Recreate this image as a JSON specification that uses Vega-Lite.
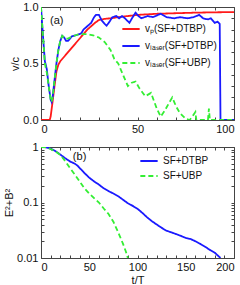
{
  "$schema": "https://vega.github.io/schema/vega-lite/v6.json",
  "padding": {"left": 3, "top": 0, "right": 0, "bottom": 0},
  "spacing": 5,
  "resolve": {"scale": {"color": "independent", "strokeDash": "independent"}, "legend": {"color": "independent", "strokeDash": "independent"}},
  "config": {
    "font": "Liberation Sans",
    "view": {"stroke": "#444", "strokeWidth": 1},
    "axis": {"grid": false, "domain": false, "tickColor": "#444", "tickSize": -3, "labelFontSize": 11, "labelColor": "#111", "titleFontSize": 11, "titleFontWeight": "normal", "titleColor": "#111", "labelPadding": 6, "minExtent": 0, "labelOverlap": false},
    "legend": {"labelFontSize": 10, "labelFont": "Liberation Sans", "labelColor": "#111", "symbolStrokeWidth": 2, "symbolSize": 300, "rowPadding": 2}
  },
  "datasets": {
    "top": [
      {"s": "vp", "t": 0, "v": 0}, {"s": "vp", "t": 4.5, "v": 0}, {"s": "vp", "t": 5, "v": 0.03}, {"s": "vp", "t": 6, "v": 0.16}, {"s": "vp", "t": 7, "v": 0.3}, {"s": "vp", "t": 8, "v": 0.43}, {"s": "vp", "t": 9, "v": 0.49}, {"s": "vp", "t": 10, "v": 0.52}, {"s": "vp", "t": 12, "v": 0.56}, {"s": "vp", "t": 14, "v": 0.6}, {"s": "vp", "t": 16, "v": 0.64}, {"s": "vp", "t": 18, "v": 0.68}, {"s": "vp", "t": 20, "v": 0.72}, {"s": "vp", "t": 22, "v": 0.76}, {"s": "vp", "t": 24, "v": 0.8}, {"s": "vp", "t": 26, "v": 0.83}, {"s": "vp", "t": 28, "v": 0.86}, {"s": "vp", "t": 30, "v": 0.885}, {"s": "vp", "t": 33, "v": 0.895}, {"s": "vp", "t": 36, "v": 0.9}, {"s": "vp", "t": 40, "v": 0.91}, {"s": "vp", "t": 45, "v": 0.92}, {"s": "vp", "t": 50, "v": 0.93}, {"s": "vp", "t": 60, "v": 0.94}, {"s": "vp", "t": 70, "v": 0.945}, {"s": "vp", "t": 80, "v": 0.95}, {"s": "vp", "t": 90, "v": 0.953}, {"s": "vp", "t": 100, "v": 0.955},

      {"s": "vl1", "t": 0, "v": 1.0}, {"s": "vl1", "t": 1, "v": 0.75}, {"s": "vl1", "t": 2, "v": 0.52}, {"s": "vl1", "t": 3, "v": 0.45}, {"s": "vl1", "t": 4, "v": 0.3}, {"s": "vl1", "t": 5, "v": 0.18}, {"s": "vl1", "t": 5.5, "v": 0.16}, {"s": "vl1", "t": 6, "v": 0.2}, {"s": "vl1", "t": 7, "v": 0.35}, {"s": "vl1", "t": 8, "v": 0.5}, {"s": "vl1", "t": 9, "v": 0.62}, {"s": "vl1", "t": 10, "v": 0.7}, {"s": "vl1", "t": 11, "v": 0.745}, {"s": "vl1", "t": 12, "v": 0.73}, {"s": "vl1", "t": 13, "v": 0.7}, {"s": "vl1", "t": 14, "v": 0.7}, {"s": "vl1", "t": 15, "v": 0.72}, {"s": "vl1", "t": 16, "v": 0.74}, {"s": "vl1", "t": 18, "v": 0.75}, {"s": "vl1", "t": 20, "v": 0.76}, {"s": "vl1", "t": 21, "v": 0.77}, {"s": "vl1", "t": 22, "v": 0.8}, {"s": "vl1", "t": 24, "v": 0.83}, {"s": "vl1", "t": 26, "v": 0.86}, {"s": "vl1", "t": 27.5, "v": 0.91}, {"s": "vl1", "t": 28.5, "v": 0.93}, {"s": "vl1", "t": 30, "v": 0.93}, {"s": "vl1", "t": 31.5, "v": 0.88}, {"s": "vl1", "t": 33, "v": 0.85}, {"s": "vl1", "t": 34, "v": 0.835}, {"s": "vl1", "t": 35.5, "v": 0.87}, {"s": "vl1", "t": 37, "v": 0.91}, {"s": "vl1", "t": 39, "v": 0.92}, {"s": "vl1", "t": 40.5, "v": 0.9}, {"s": "vl1", "t": 42, "v": 0.92}, {"s": "vl1", "t": 43.5, "v": 0.9}, {"s": "vl1", "t": 45.8, "v": 0.86}, {"s": "vl1", "t": 47.5, "v": 0.91}, {"s": "vl1", "t": 49, "v": 0.95}, {"s": "vl1", "t": 50.5, "v": 0.92}, {"s": "vl1", "t": 52, "v": 0.9}, {"s": "vl1", "t": 55.3, "v": 0.92}, {"s": "vl1", "t": 58, "v": 0.91}, {"s": "vl1", "t": 62, "v": 0.94}, {"s": "vl1", "t": 65, "v": 0.91}, {"s": "vl1", "t": 69, "v": 0.9}, {"s": "vl1", "t": 72, "v": 0.91}, {"s": "vl1", "t": 76, "v": 0.9}, {"s": "vl1", "t": 79, "v": 0.91}, {"s": "vl1", "t": 82, "v": 0.93}, {"s": "vl1", "t": 84, "v": 0.9}, {"s": "vl1", "t": 86.5, "v": 0.89}, {"s": "vl1", "t": 88, "v": 0.9}, {"s": "vl1", "t": 90, "v": 0.86}, {"s": "vl1", "t": 91.5, "v": 0.87}, {"s": "vl1", "t": 92.6, "v": 0.85}, {"s": "vl1", "t": 93, "v": 0}, {"s": "vl1", "t": 100, "v": 0},

      {"s": "vl2", "t": 0, "v": 1.0}, {"s": "vl2", "t": 1, "v": 0.75}, {"s": "vl2", "t": 2, "v": 0.5}, {"s": "vl2", "t": 3, "v": 0.42}, {"s": "vl2", "t": 4, "v": 0.3}, {"s": "vl2", "t": 5, "v": 0.18}, {"s": "vl2", "t": 5.5, "v": 0.16}, {"s": "vl2", "t": 6, "v": 0.2}, {"s": "vl2", "t": 7, "v": 0.35}, {"s": "vl2", "t": 8, "v": 0.5}, {"s": "vl2", "t": 9, "v": 0.62}, {"s": "vl2", "t": 10, "v": 0.7}, {"s": "vl2", "t": 11, "v": 0.745}, {"s": "vl2", "t": 12, "v": 0.73}, {"s": "vl2", "t": 13, "v": 0.72}, {"s": "vl2", "t": 14, "v": 0.72}, {"s": "vl2", "t": 16, "v": 0.74}, {"s": "vl2", "t": 18, "v": 0.75}, {"s": "vl2", "t": 20, "v": 0.76}, {"s": "vl2", "t": 24, "v": 0.76}, {"s": "vl2", "t": 27, "v": 0.75}, {"s": "vl2", "t": 30, "v": 0.73}, {"s": "vl2", "t": 33, "v": 0.69}, {"s": "vl2", "t": 36, "v": 0.62}, {"s": "vl2", "t": 38, "v": 0.54}, {"s": "vl2", "t": 40, "v": 0.5}, {"s": "vl2", "t": 42, "v": 0.42}, {"s": "vl2", "t": 45, "v": 0.3}, {"s": "vl2", "t": 47, "v": 0.33}, {"s": "vl2", "t": 49, "v": 0.34}, {"s": "vl2", "t": 51, "v": 0.28}, {"s": "vl2", "t": 54, "v": 0.21}, {"s": "vl2", "t": 57, "v": 0.24}, {"s": "vl2", "t": 60, "v": 0.1}, {"s": "vl2", "t": 62, "v": 0.03}, {"s": "vl2", "t": 64, "v": 0.08}, {"s": "vl2", "t": 66, "v": 0.14}, {"s": "vl2", "t": 68, "v": 0.2}, {"s": "vl2", "t": 70, "v": 0.12}, {"s": "vl2", "t": 72, "v": 0.06}, {"s": "vl2", "t": 75, "v": 0.01}, {"s": "vl2", "t": 77, "v": 0.0}, {"s": "vl2", "t": 78, "v": 0.02}, {"s": "vl2", "t": 80, "v": 0.07}, {"s": "vl2", "t": 80.5, "v": 0}, {"s": "vl2", "t": 86.5, "v": 0}, {"s": "vl2", "t": 87, "v": 0.1}, {"s": "vl2", "t": 87.5, "v": 0}, {"s": "vl2", "t": 100, "v": 0}
    ],
    "bottom": [
      {"s": "d", "t": 0, "v": 1}, {"s": "d", "t": 5, "v": 0.99}, {"s": "d", "t": 8, "v": 0.96}, {"s": "d", "t": 12, "v": 0.9}, {"s": "d", "t": 16, "v": 0.82}, {"s": "d", "t": 20, "v": 0.73}, {"s": "d", "t": 25, "v": 0.63}, {"s": "d", "t": 30, "v": 0.55}, {"s": "d", "t": 35, "v": 0.5}, {"s": "d", "t": 38, "v": 0.46}, {"s": "d", "t": 40, "v": 0.42}, {"s": "d", "t": 45, "v": 0.34}, {"s": "d", "t": 50, "v": 0.28}, {"s": "d", "t": 55, "v": 0.24}, {"s": "d", "t": 60, "v": 0.21}, {"s": "d", "t": 65, "v": 0.18}, {"s": "d", "t": 70, "v": 0.16}, {"s": "d", "t": 75, "v": 0.145}, {"s": "d", "t": 80, "v": 0.13}, {"s": "d", "t": 85, "v": 0.112}, {"s": "d", "t": 90, "v": 0.097}, {"s": "d", "t": 95, "v": 0.087}, {"s": "d", "t": 100, "v": 0.077}, {"s": "d", "t": 105, "v": 0.065}, {"s": "d", "t": 110, "v": 0.054}, {"s": "d", "t": 115, "v": 0.046}, {"s": "d", "t": 120, "v": 0.04}, {"s": "d", "t": 125, "v": 0.035}, {"s": "d", "t": 130, "v": 0.031}, {"s": "d", "t": 135, "v": 0.029}, {"s": "d", "t": 140, "v": 0.027}, {"s": "d", "t": 145, "v": 0.025}, {"s": "d", "t": 150, "v": 0.023}, {"s": "d", "t": 155, "v": 0.022}, {"s": "d", "t": 160, "v": 0.02}, {"s": "d", "t": 165, "v": 0.018}, {"s": "d", "t": 170, "v": 0.016}, {"s": "d", "t": 175, "v": 0.014}, {"s": "d", "t": 180, "v": 0.0125}, {"s": "d", "t": 186, "v": 0.01},
      {"s": "u", "t": 0, "v": 1}, {"s": "u", "t": 5, "v": 0.99}, {"s": "u", "t": 10, "v": 0.92}, {"s": "u", "t": 15, "v": 0.83}, {"s": "u", "t": 20, "v": 0.72}, {"s": "u", "t": 25, "v": 0.56}, {"s": "u", "t": 30, "v": 0.42}, {"s": "u", "t": 35, "v": 0.32}, {"s": "u", "t": 40, "v": 0.24}, {"s": "u", "t": 45, "v": 0.18}, {"s": "u", "t": 50, "v": 0.145}, {"s": "u", "t": 55, "v": 0.12}, {"s": "u", "t": 60, "v": 0.1}, {"s": "u", "t": 65, "v": 0.078}, {"s": "u", "t": 70, "v": 0.062}, {"s": "u", "t": 75, "v": 0.045}, {"s": "u", "t": 80, "v": 0.029}, {"s": "u", "t": 85, "v": 0.018}, {"s": "u", "t": 88, "v": 0.013}, {"s": "u", "t": 90, "v": 0.01}
    ],
    "labA": [{"t": 4.7, "v": 0.88, "txt": "(a)"}],
    "labB": [{"t": 33, "v": 0.66, "txt": "(b)"}]
  },
  "vconcat": [
    {
      "width": 193, "height": 113,
      "resolve": {"axis": {"x": "independent", "y": "independent"}},
      "layer": [
        {
          "data": {"name": "top"},
          "transform": [{"filter": "datum.s == 'vp'"}],
          "mark": {"type": "line", "strokeWidth": 1.8, "clip": true},
          "encoding": {
            "x": {"field": "t", "type": "quantitative", "scale": {"domain": [0, 100], "nice": false}, "axis": {"orient": "bottom", "title": null, "values": [0,10,20,30,40,50,60,70,80,90,100], "labelExpr": "(datum.value == 0 || datum.value == 50 || datum.value == 100) ? datum.label : ''"}},
            "y": {"field": "v", "type": "quantitative", "scale": {"domain": [0, 1], "nice": false}, "axis": {"orient": "left", "title": "v/c", "titlePadding": 2, "format": ".1f", "values": [0,0.1,0.2,0.3,0.4,0.5,0.6,0.7,0.8,0.9,1], "labelExpr": "(datum.value == 0 || datum.value == 0.5 || datum.value == 1) ? datum.label : ''"}},
            "color": {"field": "s", "type": "nominal", "scale": {"domain": ["vp", "vl1", "vl2"], "range": ["#ff1a1a", "#1a1aff", "#33ee33"]}, "legend": {"orient": "none", "legendX": 80, "legendY": 12, "title": null, "labelExpr": "datum.value == 'vp' ? 'vₚ(SF+DTBP)' : datum.value == 'vl1' ? 'vₗₐₛₑᵣ(SF+DTBP)' : 'vₗₐₛₑᵣ(SF+UBP)'"}},
            "strokeDash": {"field": "s", "type": "nominal", "scale": {"domain": ["vp", "vl1", "vl2"], "range": [[1, 0], [1, 0], [5, 3]]}, "legend": {"orient": "none", "legendX": 80, "legendY": 12, "title": null, "labelExpr": "datum.value == 'vp' ? 'vₚ(SF+DTBP)' : datum.value == 'vl1' ? 'vₗₐₛₑᵣ(SF+DTBP)' : 'vₗₐₛₑᵣ(SF+UBP)'"}}
          }
        },
        {
          "data": {"name": "top"},
          "transform": [{"filter": "datum.s == 'vl1'"}],
          "mark": {"type": "line", "strokeWidth": 1.8, "clip": true},
          "encoding": {
            "x": {"field": "t", "type": "quantitative", "axis": {"orient": "top", "title": null, "labels": false, "labelPadding": 0, "values": [0,10,20,30,40,50,60,70,80,90,100]}},
            "y": {"field": "v", "type": "quantitative", "axis": {"orient": "right", "title": null, "labels": false, "labelPadding": 0, "values": [0,0.1,0.2,0.3,0.4,0.5,0.6,0.7,0.8,0.9,1]}},
            "color": {"field": "s", "type": "nominal"},
            "strokeDash": {"field": "s", "type": "nominal"}
          }
        },
        {
          "data": {"name": "top"},
          "transform": [{"filter": "datum.s == 'vl2'"}],
          "mark": {"type": "line", "strokeWidth": 1.8, "clip": true},
          "encoding": {
            "x": {"field": "t", "type": "quantitative", "axis": null},
            "y": {"field": "v", "type": "quantitative", "axis": null},
            "color": {"field": "s", "type": "nominal"},
            "strokeDash": {"field": "s", "type": "nominal"}
          }
        },
        {
          "data": {"name": "labA"},
          "mark": {"type": "text", "fontSize": 11, "align": "left", "color": "#111"},
          "encoding": {
            "x": {"field": "t", "type": "quantitative", "axis": null},
            "y": {"field": "v", "type": "quantitative", "axis": null},
            "text": {"field": "txt"}
          }
        }
      ]
    },
    {
      "width": 193, "height": 111,
      "resolve": {"axis": {"x": "independent", "y": "independent"}},
      "layer": [
        {
          "data": {"name": "bottom"},
          "transform": [{"filter": "datum.s == 'd'"}],
          "mark": {"type": "line", "strokeWidth": 1.8, "clip": true},
          "encoding": {
            "x": {"field": "t", "type": "quantitative", "scale": {"domain": [0, 200], "nice": false}, "axis": {"orient": "bottom", "title": "t/T", "titlePadding": 2, "values": [0,10,20,30,40,50,60,70,80,90,100,110,120,130,140,150,160,170,180,190,200], "labelExpr": "(datum.value % 50 == 0) ? datum.label : ''"}},
            "y": {"field": "v", "type": "quantitative", "scale": {"type": "log", "domain": [0.01, 1], "nice": false}, "axis": {"orient": "left", "title": "E²+B²", "titlePadding": 2, "values": [0.01,0.02,0.03,0.04,0.05,0.06,0.07,0.08,0.09,0.1,0.2,0.3,0.4,0.5,0.6,0.7,0.8,0.9,1], "labelExpr": "datum.value == 1 ? '1' : datum.value == 0.1 ? '0.1' : datum.value == 0.01 ? '0.01' : ''"}},
            "color": {"field": "s", "type": "nominal", "scale": {"domain": ["d", "u"], "range": ["#1a1aff", "#33ee33"]}, "legend": {"orient": "none", "legendX": 98, "legendY": 4, "rowPadding": 0, "title": null, "labelExpr": "datum.value == 'd' ? 'SF+DTBP' : 'SF+UBP'"}},
            "strokeDash": {"field": "s", "type": "nominal", "scale": {"domain": ["d", "u"], "range": [[1, 0], [5, 3]]}, "legend": {"orient": "none", "legendX": 98, "legendY": 4, "rowPadding": 0, "title": null, "labelExpr": "datum.value == 'd' ? 'SF+DTBP' : 'SF+UBP'"}}
          }
        },
        {
          "data": {"name": "bottom"},
          "transform": [{"filter": "datum.s == 'u'"}],
          "mark": {"type": "line", "strokeWidth": 1.8, "clip": true},
          "encoding": {
            "x": {"field": "t", "type": "quantitative", "axis": {"orient": "top", "title": null, "labels": false, "labelPadding": 0, "values": [0,10,20,30,40,50,60,70,80,90,100,110,120,130,140,150,160,170,180,190,200]}},
            "y": {"field": "v", "type": "quantitative", "axis": {"orient": "right", "title": null, "labels": false, "labelPadding": 0, "values": [0.01,0.02,0.03,0.04,0.05,0.06,0.07,0.08,0.09,0.1,0.2,0.3,0.4,0.5,0.6,0.7,0.8,0.9,1]}},
            "color": {"field": "s", "type": "nominal"},
            "strokeDash": {"field": "s", "type": "nominal"}
          }
        },
        {
          "data": {"name": "labB"},
          "mark": {"type": "text", "fontSize": 11, "align": "left", "color": "#111"},
          "encoding": {
            "x": {"field": "t", "type": "quantitative", "axis": null},
            "y": {"field": "v", "type": "quantitative", "axis": null},
            "text": {"field": "txt"}
          }
        }
      ]
    }
  ]
}
